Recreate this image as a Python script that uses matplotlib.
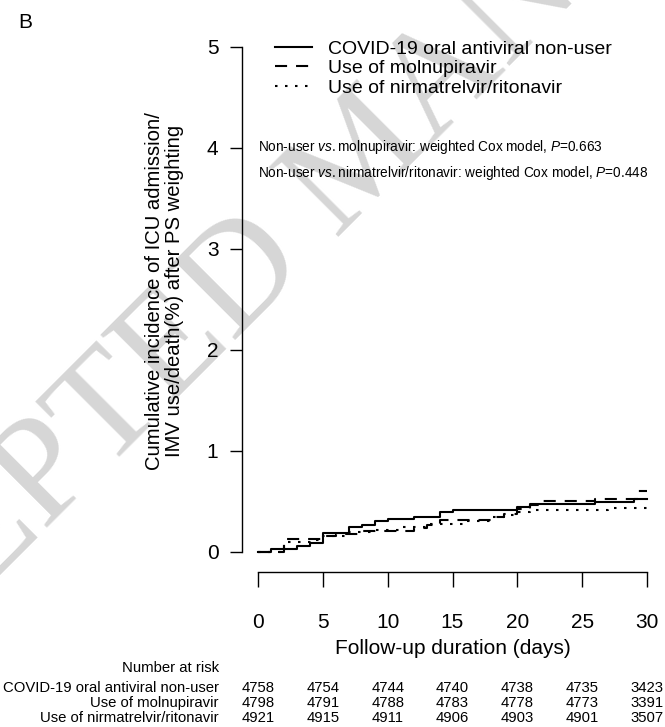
"""
    Weighted cumulative incidence curves (panel B) with a number-at-risk table.
"""
import matplotlib
matplotlib.use('Agg')
import matplotlib.pyplot as plt
from matplotlib.transforms import blended_transform_factory

plt.rcParams['font.family'] = ['Liberation Sans', 'DejaVu Sans']
plt.rcParams['mathtext.fontset'] = 'custom'
plt.rcParams['mathtext.rm'] = 'Liberation Sans'
plt.rcParams['mathtext.it'] = 'Liberation Sans:italic'

W, H = 665, 727

# step curves (day, cumulative incidence %)
DAYS_NONUSER = [0, 1, 3, 4, 5, 7, 8, 9, 10, 12, 14, 15, 20, 21, 26, 29, 30]
INC_NONUSER = [0, 0.025, 0.05, 0.08, 0.18, 0.24, 0.26, 0.30, 0.32, 0.345,
               0.39, 0.41, 0.44, 0.47, 0.49, 0.52, 0.52]

DAYS_MOLN = [0, 2, 5, 6, 8, 12, 13, 14, 18, 19, 20, 21, 22, 26, 29.3, 30]
INC_MOLN = [0, 0.12, 0.15, 0.17, 0.20, 0.23, 0.26, 0.31, 0.345, 0.37,
            0.42, 0.46, 0.50, 0.52, 0.60, 0.60]

DAYS_NIRM = [0, 2, 4, 5, 7, 9, 11, 13, 16, 18, 19, 20, 21, 27, 30]
INC_NIRM = [0, 0.09, 0.11, 0.15, 0.19, 0.21, 0.24, 0.27, 0.30, 0.34,
            0.36, 0.39, 0.41, 0.43, 0.43]

LABELS = ['COVID-19 oral antiviral non-user', 'Use of molnupiravir',
          'Use of nirmatrelvir/ritonavir']

RISK_DAYS = [0, 5, 10, 15, 20, 25, 30]
RISK_NONUSER = [4758, 4754, 4744, 4740, 4738, 4735, 3423]
RISK_MOLN = [4798, 4791, 4788, 4783, 4778, 4773, 3391]
RISK_NIRM = [4921, 4915, 4911, 4906, 4903, 4901, 3507]

P_TEXTS = [r'Non-user $\mathit{vs.}$molnupiravir: weighted Cox model, $\mathit{P}$=0.663',
           r'Non-user $\mathit{vs.}$nirmatrelvir/ritonavir: weighted Cox model, $\mathit{P}$=0.448']


def fx(x):
    return x / W


def fy(y):
    return 1 - y / H


def main():
    fig = plt.figure(figsize=(W / 100, H / 100), dpi=100)

    # watermark, kept behind everything
    fig.text(fx(365), fy(160), 'ACCEPTED MANUSCRIPT', rotation=45,
             ha='center', va='center', fontsize=108, color='#d6d6d6',
             family='Liberation Serif', zorder=-10)

    ax = fig.add_axes([fx(258), fy(551.5), (647 - 258) / W, 504.5 / H])
    ax.patch.set_alpha(0)
    ax.set_xlim(0, 30)
    ax.set_ylim(0, 5)

    l1, = ax.step(DAYS_NONUSER, INC_NONUSER, where='post', color='black',
                  lw=1.5, clip_on=False)
    l2, = ax.step(DAYS_MOLN, INC_MOLN, where='post', color='black',
                  lw=1.5, clip_on=False)
    l2.set_dashes((5.8, 4.3))
    l3, = ax.step(DAYS_NIRM, INC_NIRM, where='post', color='black',
                  lw=1.5, clip_on=False)
    l3.set_dashes((1.2, 3.6))

    for side in ('top', 'right'):
        ax.spines[side].set_visible(False)
    ax.spines['left'].set_position(('outward', 11.5))
    ax.spines['bottom'].set_position(('outward', 14.8))
    ax.spines['left'].set_bounds(0, 5)
    ax.spines['bottom'].set_bounds(0, 30)
    for s in ('left', 'bottom'):
        ax.spines[s].set_linewidth(1.0)

    ax.set_xticks(RISK_DAYS)
    ax.set_yticks(range(0, 6))
    ax.tick_params(axis='y', length=9, width=1.0, pad=8, labelsize=15)
    ax.tick_params(axis='x', length=10.8, width=1.0, pad=19, labelsize=15)

    ax.legend([l1, l2, l3], LABELS, loc='upper left',
              bbox_to_anchor=(fx(275), fy(40)), bbox_transform=fig.transFigure,
              frameon=False, fontsize=14, handlelength=1.9,
              handletextpad=0.8, labelspacing=0.1, borderpad=0,
              borderaxespad=0)

    for i, txt in enumerate(P_TEXTS):
        fig.text(fx(258), fy(147 + 26 * i), txt, fontsize=9.8,
                 ha='left', va='center')

    fig.text(fx(18), fy(22), 'B', fontsize=15, ha='left', va='center')

    fig.text(fx(155), fy(291), 'Cumulative incidence of ICU admission/',
             rotation=90, fontsize=14.6, ha='center', va='center')
    fig.text(fx(175), fy(291), 'IMV use/death(%) after PS weighting',
             rotation=90, fontsize=14.6, ha='center', va='center')

    fig.text(fx(452.5), fy(648), 'Follow-up duration (days)', fontsize=15,
             ha='center', va='center')

    # number at risk table
    fig.text(fx(219), fy(668), 'Number at risk', fontsize=10.7,
             ha='right', va='center')
    trans = blended_transform_factory(ax.transData, fig.transFigure)
    rows = [RISK_NONUSER, RISK_MOLN, RISK_NIRM]
    for j, (label, vals) in enumerate(zip(LABELS, rows)):
        yy = fy(688 + 15 * j)
        fig.text(fx(219), yy, label, fontsize=10.7, ha='right', va='center')
        for d, v in zip(RISK_DAYS, vals):
            ax.text(d, yy, str(v), transform=trans, fontsize=10.7,
                    ha='center', va='center', clip_on=False)

    fig.savefig('out.png', dpi=100)


if __name__ == "__main__":
    main()
